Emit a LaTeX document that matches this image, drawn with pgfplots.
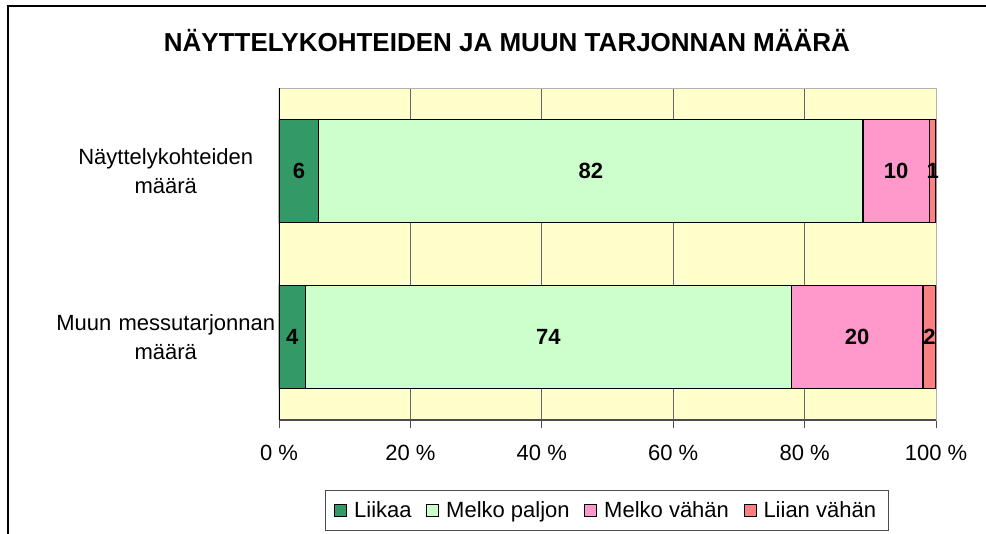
\documentclass[border=0pt]{standalone}
\usepackage{pgfplots}
\pgfplotsset{compat=1.18}
\usepackage{fontspec}
\setmainfont{Liberation Sans}
\definecolor{cA}{HTML}{339966}
\definecolor{cB}{HTML}{CCFFCC}
\definecolor{cC}{HTML}{FF99CC}
\definecolor{cD}{HTML}{FF8080}
\definecolor{bgY}{HTML}{FFFFCC}
\begin{document}
\begin{tikzpicture}[x=0.75pt,y=0.75pt]
\useasboundingbox (0,0) rectangle (986,533);
\draw[line width=1.5pt] (8,-10) -- (8,527) -- (1000,527);
\node[font=\bfseries\fontsize{19.5}{23}\selectfont] at (507,492) {NÄYTTELYKOHTEIDEN JA MUUN TARJONNAN MÄÄRÄ};
\begin{axis}[
  at={(209.25pt,84.75pt)}, anchor=south west,
  scale only axis, width=492.75pt, height=249pt,
  xbar stacked, bar width=0.62,
  xmin=0, xmax=100, ymin=0.5, ymax=2.5, y dir=reverse,
  axis background/.style={fill=bgY},
  axis line style={draw=gray!60},
  xtick={0,20,40,60,80,100},
  xticklabels={0 \%,20 \%,40 \%,60 \%,80 \%,100 \%},
  xmajorgrids, major grid style={draw=black!60, line width=0.6pt},
  ytick={1,2},
  yticklabels={{Näyttelykohteiden\\määrä},{Muun messutarjonnan\\määrä}},
  minor ytick={0.5,1.5,2.5},
  tick align=outside, xtick pos=bottom, ytick pos=left,
  major tick length=6pt, minor tick length=6pt,
  xtick style={draw=black!70, line width=0.6pt},
  ytick style={draw=none},
  minor tick style={draw=black, line width=0.6pt},
  tick label style={font=\fontsize{16.5}{21.75}\selectfont},
  yticklabel style={text width=169.5pt, align=center, inner sep=0pt, xshift=6pt},
  xticklabel style={yshift=-9.5pt},
  /pgf/number format/assume math mode=true,
  point meta=explicit symbolic,
  nodes near coords,
  every node near coord/.append style={font=\bfseries\fontsize{16.5}{18}\selectfont, text=black, anchor=center},
  legend columns=4,
  legend style={at={(0.4985,-0.2726)}, anchor=center, draw=black!70, line width=0.6pt,
    font=\fontsize{16.5}{18}\selectfont, inner xsep=7pt, inner ysep=6pt,
    /tikz/every even column/.append style={column sep=9pt}},
  legend image code/.code={\draw[#1, draw=black, line width=0.8pt] (0pt,-4.5pt) rectangle (9pt,4.5pt); \path (12pt,0pt);},
]
\addplot[fill=cA, draw=black, line width=1pt] table[x=v, y=c, meta=lab] {
v c lab
6.06 1 6
4 2 4
};
\addplot[fill=cB, draw=black, line width=1pt] table[x=v, y=c, meta=lab] {
v c lab
82.83 1 82
74 2 74
};
\addplot[fill=cC, draw=black, line width=1pt] table[x=v, y=c, meta=lab] {
v c lab
10.10 1 10
20 2 20
};
\addplot[fill=cD, draw=black, line width=1pt] table[x=v, y=c, meta=lab] {
v c lab
1.01 1 1
2 2 2
};
\legend{Liikaa,Melko paljon,Melko vähän,Liian vähän}
\draw[black, line width=1pt] (rel axis cs:0,0) -- (rel axis cs:0,1);
\draw[black!70, line width=1pt] (rel axis cs:0,0) -- (rel axis cs:1,0);
\end{axis}
\end{tikzpicture}
\end{document}
